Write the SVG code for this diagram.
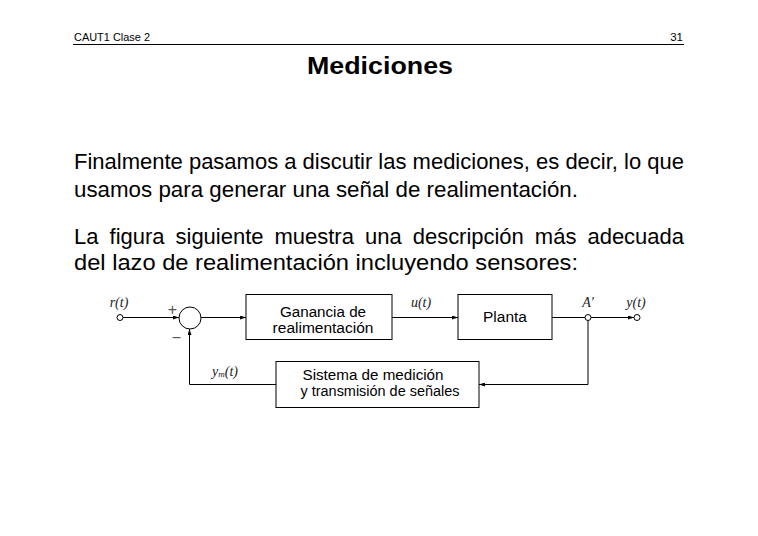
<svg xmlns="http://www.w3.org/2000/svg" width="758" height="536" viewBox="0 0 758 536">
<style>
.hdr{font-family:"Liberation Sans",Arial,sans-serif;font-size:11.5px;fill:#000}
.title{font-family:"Liberation Sans",Arial,sans-serif;font-size:23px;font-weight:bold;fill:#000}
.body{font-family:"Liberation Sans",Arial,sans-serif;font-size:22px;fill:#000}
.box{fill:#fff;stroke:#000;stroke-width:1}
.bt{font-family:"Liberation Sans",Arial,sans-serif;font-size:15.5px;fill:#000;text-anchor:middle}
.lbl{font-family:"Liberation Serif","Times New Roman",serif;font-size:14px;font-style:italic;fill:#222;text-anchor:middle}
.sgn{font-family:"Liberation Sans",Arial,sans-serif;font-size:16px;fill:#555;text-anchor:middle}
.ln{fill:none;stroke:#000;stroke-width:1}
.term{fill:#fff;stroke:#000;stroke-width:1}
</style>
<defs>
<marker id="ah" markerWidth="6" markerHeight="4" refX="6" refY="2" orient="auto" markerUnits="userSpaceOnUse">
<path d="M0,0 L6,2 L0,4 Z" fill="#000"/>
</marker>
</defs>
<rect width="758" height="536" fill="#fff"/>
<g id="header">
<text class="hdr" x="74" y="40.5" textLength="76" lengthAdjust="spacingAndGlyphs">CAUT1 Clase 2</text>
<text class="hdr" x="683" y="40.5" text-anchor="end">31</text>
<line x1="73" y1="44.5" x2="684" y2="44.5" stroke="#000" stroke-width="1"/>
<text class="title" x="307" y="73.5" textLength="146" lengthAdjust="spacingAndGlyphs">Mediciones</text>
</g>
<g id="paragraph">
<text class="body" x="74" y="169" textLength="610" lengthAdjust="spacingAndGlyphs">Finalmente pasamos a discutir las mediciones, es decir, lo que</text>
<text class="body" x="74" y="197" textLength="504" lengthAdjust="spacingAndGlyphs">usamos para generar una señal de realimentación.</text>
<text class="body" x="74" y="244" textLength="610" lengthAdjust="spacing" word-spacing="5">La figura siguiente muestra una descripción más adecuada</text>
<text class="body" x="74" y="270" textLength="504" lengthAdjust="spacingAndGlyphs">del lazo de realimentación incluyendo sensores:</text>
</g>
<g id="connectors">
<line class="ln" x1="123" y1="317.5" x2="179" y2="317.5" marker-end="url(#ah)"/>
<line class="ln" x1="201" y1="317.5" x2="246" y2="317.5" marker-end="url(#ah)"/>
<line class="ln" x1="392" y1="317.5" x2="458" y2="317.5" marker-end="url(#ah)"/>
<line class="ln" x1="552" y1="317.5" x2="585" y2="317.5"/>
<line class="ln" x1="591" y1="317.5" x2="634" y2="317.5" marker-end="url(#ah)"/>
<polyline class="ln" points="588,320.5 588,384.5 479,384.5" marker-end="url(#ah)"/>
<polyline class="ln" points="276,384.5 189.5,384.5 189.5,329" marker-end="url(#ah)"/>
</g>
<g id="r">
<circle class="term" cx="120" cy="317.5" r="3"/>
<text class="lbl" x="119" y="307">r(t)</text>
</g>
<g id="sum">
<circle class="term" cx="190" cy="318" r="11"/>
<text class="sgn" x="172.5" y="315">+</text>
<text class="sgn" x="176.5" y="343">−</text>
</g>
<g id="ganancia">
<rect class="box" x="246" y="294.5" width="146" height="45"/>
<text class="bt" x="323" y="316.5" textLength="86" lengthAdjust="spacingAndGlyphs">Ganancia de</text>
<text class="bt" x="323" y="332.5">realimentación</text>
</g>
<g id="u">
<text class="lbl" x="421" y="307">u(t)</text>
</g>
<g id="planta">
<rect class="box" x="458" y="294.5" width="94" height="45"/>
<text class="bt" x="505" y="322">Planta</text>
</g>
<g id="A">
<circle class="term" cx="588" cy="317.5" r="3"/>
<text class="lbl" x="588" y="307">A′</text>
</g>
<g id="y">
<circle class="term" cx="637" cy="317.5" r="3"/>
<text class="lbl" x="636" y="307">y(t)</text>
</g>
<g id="sistema">
<rect class="box" x="276" y="361.5" width="203" height="46"/>
<text class="bt" x="373" y="380" textLength="141" lengthAdjust="spacingAndGlyphs">Sistema de medición</text>
<text class="bt" x="380" y="396" textLength="159" lengthAdjust="spacingAndGlyphs">y transmisión de señales</text>
</g>
<g id="ym">
<text class="lbl" x="225" y="376">y<tspan font-size="9" dy="1">m</tspan><tspan dy="-1">(t)</tspan></text>
</g>
</svg>
